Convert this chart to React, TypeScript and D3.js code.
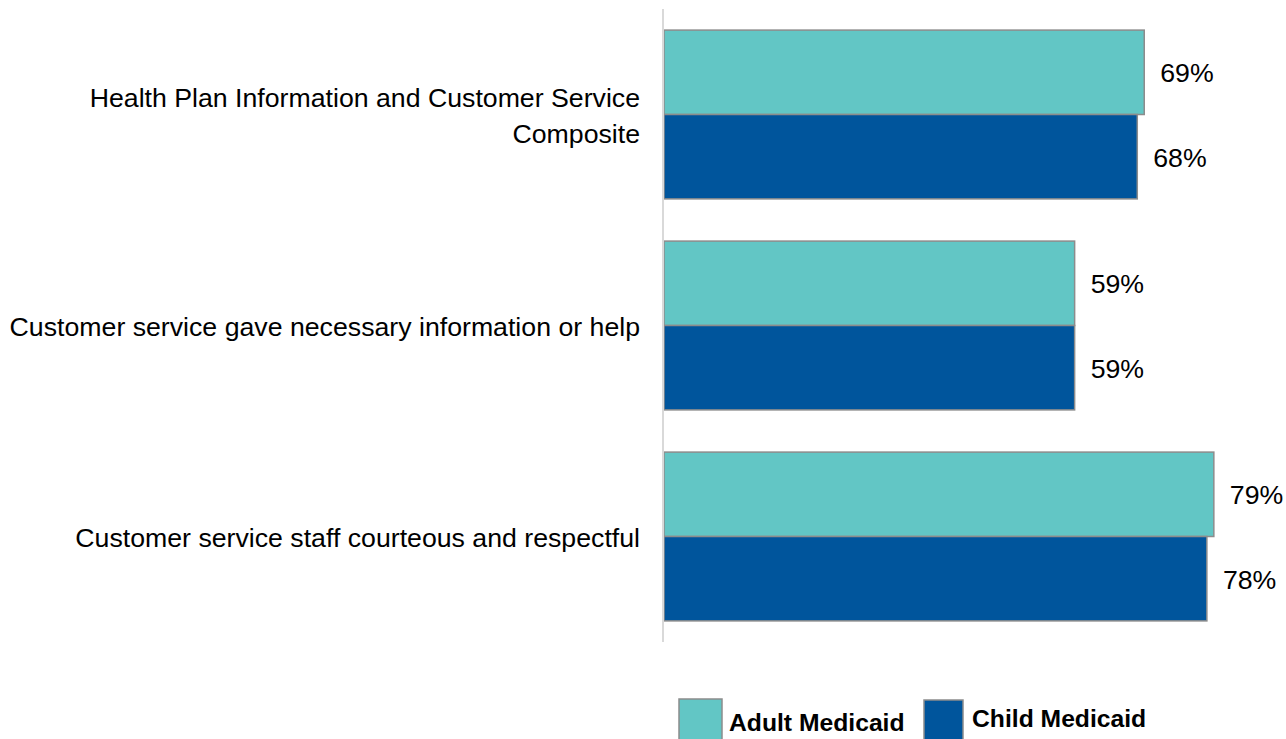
import * as d3 from "d3";

const categories = [
  ["Health Plan Information and Customer Service", "Composite"],
  ["Customer service gave necessary information or help"],
  ["Customer service staff courteous and respectful"],
];
const series = ["Adult Medicaid", "Child Medicaid"];
const adultValues = [69, 59, 79];
const childValues = [68, 59, 78];
const colors = ["#62C6C5", "#00559C"];

const width = 1286;
const height = 739;
const font = "Arial, 'Liberation Sans', sans-serif";

export default function App() {
  const keys = categories.map((c) => c.join(" "));
  const y0 = d3.scaleBand().domain(keys).range([9, 642]).paddingInner(0.2).paddingOuter(0.1);
  const y1 = d3.scaleBand().domain(series).range([0, y0.bandwidth()]);
  const x = d3.scaleLinear().domain([0, 100]).range([664, 664 + 696]);
  const values = [adultValues, childValues];

  return (
    <svg
      width={width}
      height={height}
      style={{ position: "absolute", left: 0, top: 0, background: "#fff" }}
      fontFamily={font}
    >
      {keys.map((k, i) => {
        const gy = y0(k)!;
        const lines = categories[i];
        const mid = gy + y0.bandwidth() / 2;
        return (
          <g key={k}>
            {series.map((s, j) => {
              const v = values[j][i];
              const by = gy + y1(s)!;
              return (
                <g key={s}>
                  <rect
                    x={x(0)}
                    y={by}
                    width={x(v) - x(0)}
                    height={y1.bandwidth()}
                    fill={colors[j]}
                    stroke="#8c8c8c"
                    strokeWidth={1.5}
                  />
                  <text
                    x={x(v) + 16}
                    y={by + y1.bandwidth() / 2 + 10}
                    fontSize={26.7}
                    fill="#000"
                  >
                    {v}%
                  </text>
                </g>
              );
            })}
            {lines.map((l, li) => (
              <text
                key={li}
                x={640}
                y={mid + 10 - ((lines.length - 1) * 36) / 2 + li * 36}
                fontSize={26.7}
                textAnchor="end"
                fill="#000"
              >
                {l}
              </text>
            ))}
          </g>
        );
      })}
      <line x1={663} x2={663} y1={9} y2={642} stroke="#d9d9d9" strokeWidth={2} />
      <g>
        <rect x={679} y={699} width={43} height={44} fill={colors[0]} stroke="#8c8c8c" strokeWidth={1.5} />
        <text x={729} y={731} fontSize={24.7} fontWeight="bold">{series[0]}</text>
        <rect x={924} y={700} width={39} height={44} fill={colors[1]} stroke="#8c8c8c" strokeWidth={1.5} />
        <text x={972} y={727} fontSize={24.7} fontWeight="bold">{series[1]}</text>
      </g>
    </svg>
  );
}
